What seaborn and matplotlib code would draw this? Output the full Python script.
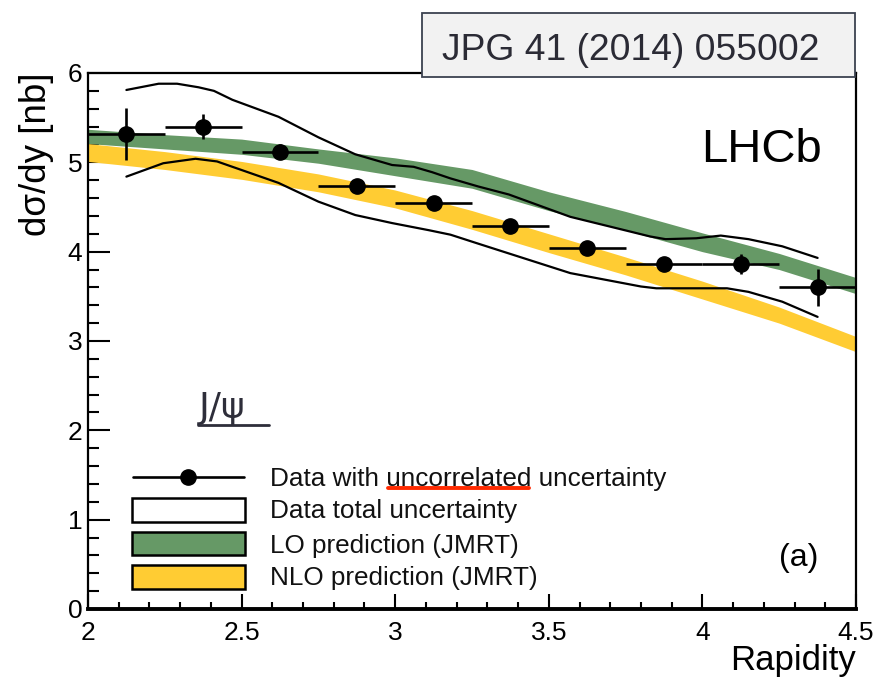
import numpy as np
import pandas as pd
import matplotlib
matplotlib.use("Agg")
import matplotlib.pyplot as plt
from matplotlib.patches import Rectangle
from matplotlib.lines import Line2D
from matplotlib.ticker import MultipleLocator
import seaborn as sns

# ---------------- data ----------------
rapidity = [2.125, 2.375, 2.625, 2.875, 3.125, 3.375, 3.625, 3.875, 4.125, 4.375]
xsec = [5.32, 5.40, 5.12, 4.74, 4.55, 4.29, 4.04, 3.86, 3.86, 3.60]
err_uncorr = [0.29, 0.14, 0.08, 0.06, 0.05, 0.05, 0.05, 0.06, 0.11, 0.21]
bin_halfwidth = [0.125, 0.125, 0.125, 0.125, 0.125, 0.125, 0.125, 0.125, 0.125, 0.125]

total_up_x = [2.125, 2.23, 2.29, 2.36, 2.41, 2.47, 2.62, 2.75, 2.87, 2.99, 3.06, 3.12,
              3.18, 3.27, 3.37, 3.57, 3.83, 3.88, 3.98, 4.06, 4.15, 4.26, 4.375]
total_up = [5.81, 5.88, 5.88, 5.84, 5.80, 5.70, 5.51, 5.28, 5.09, 4.97, 4.95, 4.89,
            4.82, 4.73, 4.64, 4.39, 4.17, 4.14, 4.15, 4.18, 4.14, 4.06, 3.93]
total_lo_x = [2.125, 2.245, 2.35, 2.42, 2.47, 2.62, 2.75, 2.87, 2.99, 3.11, 3.18, 3.27,
              3.37, 3.57, 3.80, 3.85, 4.08, 4.15, 4.26, 4.375]
total_lo = [4.84, 4.99, 5.04, 5.01, 4.95, 4.77, 4.56, 4.41, 4.32, 4.24, 4.19, 4.09,
            3.98, 3.76, 3.61, 3.59, 3.59, 3.55, 3.44, 3.27]

theory_x = [2.0, 2.25, 2.5, 2.75, 3.0, 3.25, 3.5, 3.75, 4.0, 4.25, 4.5]
lo_low = [5.21, 5.15, 5.09, 4.99, 4.85, 4.71, 4.46, 4.24, 4.00, 3.80, 3.53]
lo_high = [5.37, 5.31, 5.26, 5.15, 5.05, 4.92, 4.67, 4.45, 4.21, 3.98, 3.71]
nlo_low = [5.01, 4.92, 4.81, 4.67, 4.49, 4.25, 3.99, 3.74, 3.47, 3.20, 2.88]
nlo_high = [5.21, 5.12, 5.01, 4.87, 4.69, 4.46, 4.20, 3.94, 3.67, 3.38, 3.05]

legend_labels = ["Data with uncorrelated uncertainty", "Data total uncertainty",
                 "LO prediction (JMRT)", "NLO prediction (JMRT)"]
x_ticks = [2, 2.5, 3, 3.5, 4, 4.5]
x_ticklabels = ["2", "2.5", "3", "3.5", "4", "4.5"]
y_ticks = [0, 1, 2, 3, 4, 5, 6]

GREEN = "#669966"
YELLOW = "#ffcc33"

# ---------------- style ----------------
sns.set_theme(style="ticks")
plt.rcParams["font.family"] = ["Liberation Sans", "DejaVu Sans"]

fig = plt.figure(figsize=(8.79, 6.84), dpi=100)
ax = fig.add_axes([88 / 879, 75 / 684, 768 / 879, 536 / 684])

df_up = pd.DataFrame({"x": total_up_x, "y": total_up})
df_lo = pd.DataFrame({"x": total_lo_x, "y": total_lo})

ax.fill_between(theory_x, lo_low, lo_high, color=GREEN, lw=0, zorder=2)
ax.fill_between(theory_x, nlo_low, nlo_high, color=YELLOW, lw=0, zorder=2)

sns.lineplot(data=df_up, x="x", y="y", color="black", lw=1.6, ax=ax, zorder=3)
sns.lineplot(data=df_lo, x="x", y="y", color="black", lw=1.6, ax=ax, zorder=3)

ax.errorbar(rapidity, xsec, xerr=bin_halfwidth, yerr=err_uncorr, fmt="o",
            color="black", ms=11, elinewidth=1.9, capsize=0, zorder=5)

# axes
ax.set_xlim(2, 4.5)
ax.set_ylim(0, 6)
ax.set_xticks(x_ticks)
ax.set_xticklabels(x_ticklabels)
ax.set_yticks(y_ticks)
ax.xaxis.set_minor_locator(MultipleLocator(0.1))
ax.yaxis.set_minor_locator(MultipleLocator(0.2))
ax.tick_params(axis="x", which="major", direction="in", length=11, width=1.5,
               labelsize=19, pad=9, color="black", labelcolor="black")
ax.tick_params(axis="x", which="minor", direction="in", length=5, width=1.5, color="black")
ax.tick_params(axis="y", which="major", direction="in", length=16, width=1.5,
               labelsize=19, pad=4, color="black", labelcolor="black")
ax.tick_params(axis="y", which="minor", direction="in", length=8, width=1.5, color="black")
for side in ["left", "top", "right"]:
    ax.spines[side].set_linewidth(1.6)
    ax.spines[side].set_color("black")
ax.spines["bottom"].set_linewidth(2.8)
ax.spines["bottom"].set_color("black")

ax.set_xlabel("Rapidity", loc="right", fontsize=25, labelpad=-1, color="black")
ax.set_ylabel("dσ/dy [nb]", loc="top", fontsize=26.5, labelpad=10, color="black")

# annotations
ax.text(4.39, 5.0, "LHCb", ha="right", va="baseline", fontsize=34, color="black")
ax.text(4.315, 0.57, "(a)", ha="center", va="center", fontsize=23, color="black")
ax.text(2.360, 2.14, "J/ψ", ha="left", va="baseline", fontsize=26, color="#2e2e3a",
        fontfamily="DejaVu Sans", fontweight="normal")
ax.add_line(Line2D([2.357, 2.588], [2.06, 2.06], color="#2e2e3a", lw=2.0))

# manual legend
ax.add_line(Line2D([2.145, 2.507], [1.475, 1.475], color="black", lw=1.9, zorder=6))
ax.plot([2.325], [1.475], "o", color="black", ms=11, zorder=6)
box_rows = [(0.971, 1.246, "white"), (0.605, 0.866, GREEN), (0.221, 0.493, YELLOW)]
for y0, y1, fc in box_rows:
    ax.add_patch(Rectangle((2.142, y0), 0.368, y1 - y0, facecolor=fc,
                           edgecolor="black", lw=1.8, zorder=6))
text_base = [1.38, 1.016, 0.63, 0.269]
for yb, lab in zip(text_base, legend_labels):
    ax.text(2.592, yb, lab, ha="left", va="baseline", fontsize=18.8, color="#111111", zorder=6)
ax.add_line(Line2D([2.975, 3.435], [1.352, 1.352], color="#ff2a00", lw=2.8, zorder=6))

# reference box
fig.patches.append(Rectangle((422 / 879, 1 - 77 / 684), 433 / 879, 64 / 684,
                             transform=fig.transFigure, facecolor="#f2f2f2",
                             edgecolor="#3c4250", lw=1.3, zorder=10))
fig.text(442 / 879, 1 - 60 / 684, "JPG 41 (2014) 055002", ha="left", va="baseline",
         fontsize=26.8, color="#2b2b35", zorder=11)

fig.savefig("out.png", dpi=100)
